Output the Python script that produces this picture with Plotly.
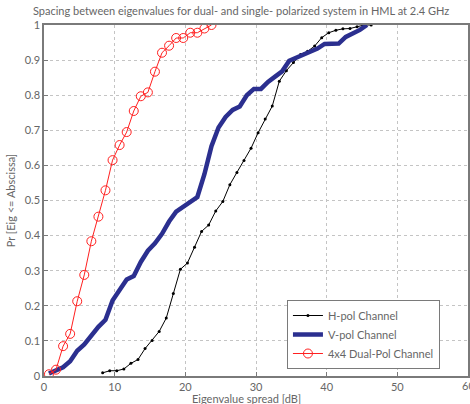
import plotly.graph_objects as go

# H-pol channel (black, dot markers)
h_x = [8.3 + k for k in range(39)]
h_y = [0.009, 0.015, 0.015, 0.02, 0.036, 0.047, 0.078, 0.101, 0.127, 0.165,
       0.235, 0.304, 0.322, 0.367, 0.412, 0.43, 0.47, 0.497, 0.545, 0.58,
       0.614, 0.649, 0.693, 0.732, 0.769, 0.84, 0.87, 0.893, 0.916, 0.925,
       0.94, 0.964, 0.978, 0.985, 0.989, 0.99, 0.995, 1.0, 1.0]

# V-pol channel (thick blue)
v_x = [0.7 + k for k in range(46)]
v_y = [0.007, 0.015, 0.025, 0.042, 0.072, 0.09, 0.117, 0.14, 0.16, 0.215,
       0.245, 0.275, 0.285, 0.325, 0.357, 0.378, 0.405, 0.44, 0.468, 0.483,
       0.497, 0.51, 0.575, 0.655, 0.708, 0.738, 0.758, 0.768, 0.8, 0.818,
       0.818, 0.838, 0.853, 0.868, 0.898, 0.906, 0.914, 0.922, 0.933, 0.946,
       0.947, 0.947, 0.966, 0.976, 0.986, 1.0]

# 4x4 Dual-Pol channel (red, open circles)
d_x = [0.7 + k for k in range(24)]
d_y = [0.005, 0.018, 0.085, 0.12, 0.213, 0.288, 0.384, 0.454, 0.529, 0.615,
       0.658, 0.695, 0.755, 0.797, 0.808, 0.867, 0.921, 0.941, 0.963, 0.963,
       0.978, 0.978, 0.99, 1.0]

x_ticks = [0, 10, 20, 30, 40, 50]
x_last_tick = 60
y_ticks = [0, 0.1, 0.2, 0.3, 0.4, 0.5, 0.6, 0.7, 0.8, 0.9, 1]

FONT = "Lato"
GREY = "#666666"

fig = go.Figure()
fig.add_trace(go.Scatter(x=h_x, y=h_y, mode="lines+markers", name="H-pol Channel",
                         line=dict(color="black", width=1),
                         marker=dict(symbol="circle", size=3, color="black")))
fig.add_trace(go.Scatter(x=v_x, y=v_y, mode="lines", name="V-pol Channel",
                         line=dict(color="#2B2F8F", width=4.5)))
fig.add_trace(go.Scatter(x=d_x, y=d_y, mode="lines+markers", name="4x4 Dual-Pol Channel",
                         line=dict(color="#FF2020", width=1),
                         marker=dict(symbol="circle-open", size=9, color="#FF2020",
                                     line=dict(width=1))))

axis_common = dict(showline=True, linecolor="#7a7a7a", linewidth=1.5, mirror=True,
                   ticks="inside", ticklen=4, tickcolor="#7a7a7a",
                   showgrid=True, gridcolor="#c4c4c4", griddash="dot", gridwidth=1,
                   zeroline=False, tickfont=dict(family=FONT, size=11, color=GREY))

fig.update_layout(
    width=470, height=404,
    margin=dict(l=44, r=0, t=25, b=28),
    paper_bgcolor="white", plot_bgcolor="white",
    font=dict(family=FONT, size=11, color=GREY),
    title=dict(text="Spacing between eigenvalues for dual- and single- polarized system in HML at 2.4 GHz",
               x=0.513, xanchor="center", xref="container", y=0.972, yanchor="middle", yref="container",
               font=dict(family=FONT, size=11, color=GREY)),
    xaxis=dict(range=[0, 60], tickvals=x_ticks + [x_last_tick],
               ticktext=[str(v) for v in x_ticks] + [""],
               **axis_common),
    yaxis=dict(range=[0, 1], tickvals=y_ticks, ticktext=[("%g" % v) for v in y_ticks],
               title=dict(text="Pr [Eig <= Abscissa]", standoff=7,
                          font=dict(family=FONT, size=11, color=GREY)),
               **axis_common),
    showlegend=True,
    legend=dict(x=0.573, y=0.2165, xanchor="left", yanchor="top",
                bgcolor="white", bordercolor="#7a7a7a", borderwidth=1,
                font=dict(family=FONT, size=11, color=GREY),
                tracegroupgap=0, itemwidth=30),
)

# last tick label (clipped by the window edge, as in the reference)
fig.add_annotation(x=x_last_tick, xref="x", y=0, yref="paper", yanchor="top", yshift=-1,
                   text=str(x_last_tick), showarrow=False,
                   font=dict(family=FONT, size=11, color=GREY))
# x-axis title
fig.add_annotation(x=0.478, xref="paper", y=-0.039, yref="paper", yanchor="top",
                   text="Eigenvalue spread [dB]", showarrow=False,
                   font=dict(family=FONT, size=11, color=GREY))

fig.write_html("out.html")
